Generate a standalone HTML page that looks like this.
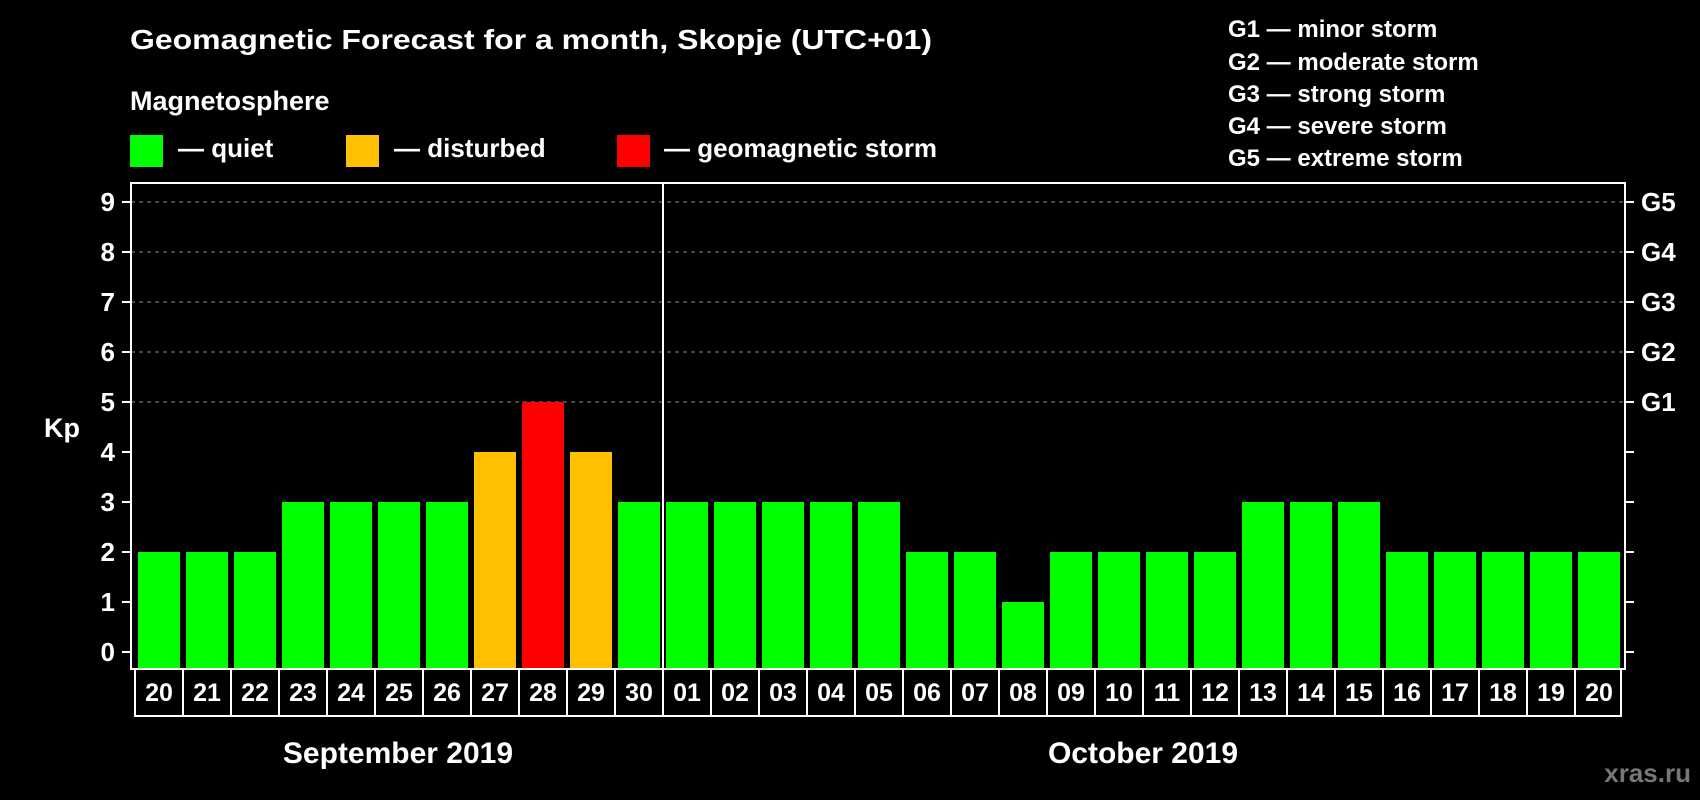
<!DOCTYPE html>
<html><head><meta charset="utf-8"><style>
html,body{margin:0;padding:0;background:#000;}
svg{display:block;font-family:"Liberation Sans",Arial,sans-serif;font-weight:bold;}
</style></head><body>
<svg id="chart" width="1700" height="800" viewBox="0 0 1700 800">
<rect width="1700" height="800" fill="#000"/>
<text x="130" y="49" fill="#fff" font-size="28" textLength="802" lengthAdjust="spacingAndGlyphs">Geomagnetic Forecast for a month, Skopje (UTC+01)</text>
<text x="130" y="110" fill="#fff" font-size="27">Magnetosphere</text>
<g><rect x="130" y="135" width="33" height="32" fill="#00ff00"/><text x="178" y="157" fill="#fff" font-size="26">— quiet</text></g>
<g><rect x="346" y="135" width="33" height="32" fill="#ffc000"/><text x="394" y="157" fill="#fff" font-size="26">— disturbed</text></g>
<g><rect x="617" y="135" width="33" height="32" fill="#ff0000"/><text x="664" y="157" fill="#fff" font-size="26">— geomagnetic storm</text></g>
<g fill="#fff" font-size="24">
<text x="1228" y="37">G1 — minor storm</text>
<text x="1228" y="70">G2 — moderate storm</text>
<text x="1228" y="102">G3 — strong storm</text>
<text x="1228" y="134">G4 — severe storm</text>
<text x="1228" y="166">G5 — extreme storm</text>
</g>
<g id="plot"></g>
<text x="44" y="437" fill="#fff" font-size="27">Kp</text>
<text x="398" y="763" fill="#fff" font-size="30" text-anchor="middle">September 2019</text>
<text x="1143" y="763" fill="#fff" font-size="30" text-anchor="middle">October 2019</text>
<text x="1691" y="782" fill="#777" font-size="26" text-anchor="end">xras.ru</text>
</svg>
<script>
const days = ["20","21","22","23","24","25","26","27","28","29","30","01","02","03","04","05","06","07","08","09","10","11","12","13","14","15","16","17","18","19","20"];
const kpValues = [2,2,2,3,3,3,3,4,5,4,3,3,3,3,3,3,2,2,1,2,2,2,2,3,3,3,2,2,2,2,2];
const yTicks = ["0","1","2","3","4","5","6","7","8","9"];
const gLabels = ["G1","G2","G3","G4","G5"];
const monthSplitIndex = 11;

(function(){
const NS = "http://www.w3.org/2000/svg";
const plot = document.getElementById("plot");
const pLeft = 131, pRight = 1625, pTop = 183, pBottom = 669;
const pitch = 48, barW = 42, x0 = 138;
function yScale(v){ return 652 - 50 * v; }
function xScale(i){ return x0 + pitch * i; }
function mk(tag, attrs){ const e = document.createElementNS(NS, tag); for (const k in attrs) e.setAttribute(k, attrs[k]); plot.appendChild(e); return e; }
function color(v){ return v >= 5 ? "#ff0000" : (v >= 4 ? "#ffc000" : "#00ff00"); }

for (let v = 5; v <= 9; v++) {
  const g = mk("line", {x1: pLeft, x2: pRight, y1: yScale(v), y2: yScale(v), stroke: "#888", "stroke-width": 1, "stroke-dasharray": "4,4"});
  
  
}
kpValues.forEach((v, i) => {
  const b = mk("rect", {x: xScale(i), y: yScale(v), width: barW, height: pBottom - yScale(v), fill: color(v)});
  
  
});
const fr = mk("rect", {x: pLeft, y: pTop, width: pRight - pLeft, height: pBottom - pTop, fill: "none", stroke: "#fff", "stroke-width": 2});


const sx = xScale(monthSplitIndex) - (pitch - barW) / 2;
const sep = mk("line", {x1: sx, x2: sx, y1: pTop, y2: pBottom, stroke: "#fff", "stroke-width": 2});


yTicks.forEach((t, v) => {
  const y = yScale(v);
  const tl = mk("line", {x1: 122, x2: pLeft, y1: y, y2: y, stroke: "#fff", "stroke-width": 2});
  
  
  const tr = mk("line", {x1: pRight, x2: 1634, y1: y, y2: y, stroke: "#fff", "stroke-width": 2});
  
  
  const tx = mk("text", {x: 115, y: y + 9, fill: "#fff", "font-size": 26, "text-anchor": "end"});
  tx.textContent = t;
  
  
});
gLabels.forEach((g, k) => {
  const t = mk("text", {x: 1641, y: yScale(5 + k) + 9, fill: "#fff", "font-size": 26});
  t.textContent = g;
  
  
});
const bx0 = 135, bx1 = 135 + pitch * days.length;
const box = mk("rect", {x: bx0, y: 669, width: bx1 - bx0 - 2, height: 47, fill: "none", stroke: "#fff", "stroke-width": 2});


days.forEach((d, i) => {
  if (i > 0) {
    const l = mk("line", {x1: bx0 + pitch * i, x2: bx0 + pitch * i, y1: 669, y2: 716, stroke: "#fff", "stroke-width": 2});
    
    
  }
  const t = mk("text", {x: xScale(i) + barW / 2, y: 701, fill: "#fff", "font-size": 25, "text-anchor": "middle"});
  t.textContent = d;
  
  
});
})();
</script>
</body></html>
